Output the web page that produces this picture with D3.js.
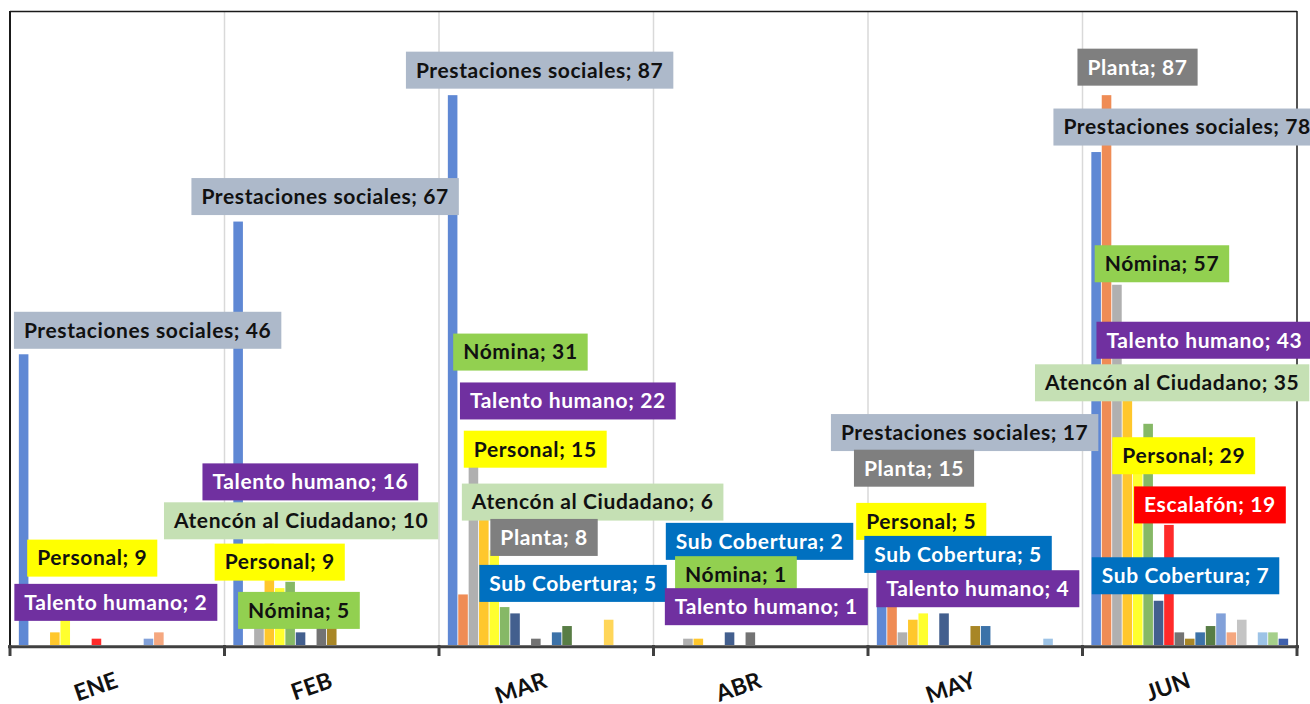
<!DOCTYPE html>
<html>
<head>
<meta charset="utf-8">
<script src="https://cdn.jsdelivr.net/npm/d3@7"></script>
<style>
  body { margin: 0; background: #fff; }
  svg { display: block; font-family: Lato, "Open Sans", sans-serif; }
</style>
</head>
<body>
<svg id="chart" width="1310" height="704"></svg>
<script>
// main chart data
var months = ["ENE", "FEB", "MAR", "ABR", "MAY", "JUN"];

var seriesNames = [
  "Prestaciones sociales", "Planta", "Nómina", "Talento humano", "Personal",
  "Atencón al Ciudadano", "Sub Cobertura", "Escalafón", "Serie 9", "Serie 10",
  "Serie 11", "Serie 12", "Serie 13", "Serie 14", "Serie 15", "Serie 16",
  "Serie 17", "Serie 18", "Serie 19"
];

var prestaciones = [46, 67, 87, 0, 17, 78];
var planta       = [0, 0, 8, 0, 15, 87];
var nomina       = [0, 5, 31, 1, 2, 57];
var talento      = [2, 16, 22, 1, 4, 43];
var personal     = [9, 9, 15, 0, 5, 29];
var atencion     = [0, 10, 6, 0, 0, 35];
var subCobertura = [0, 2, 5, 2, 5, 7];
var escalafon    = [1, 0, 0, 0, 0, 19];
var serie9  = [0, 3, 1, 2, 0, 2];
var serie10 = [0, 3, 0, 0, 3, 1];
var serie11 = [0, 0, 2, 0, 3, 2];
var serie12 = [0, 0, 3, 0, 0, 3];
var serie13 = [1, 0, 0, 0, 0, 5];
var serie14 = [2, 0, 0, 0, 0, 2];
var serie15 = [0, 0, 0, 0, 0, 4];
var serie16 = [0, 0, 4, 0, 0, 0];
var serie17 = [0, 0, 0, 0, 1, 2];
var serie18 = [0, 0, 0, 0, 0, 2];
var serie19 = [0, 0, 0, 0, 0, 1];

var seriesValues = [prestaciones, planta, nomina, talento, personal, atencion,
  subCobertura, escalafon, serie9, serie10, serie11, serie12, serie13, serie14,
  serie15, serie16, serie17, serie18, serie19];

// data labels shown on the chart: [series, month]
var labelPoints = [
  ["Prestaciones sociales", "ENE"], ["Personal", "ENE"], ["Talento humano", "ENE"],
  ["Prestaciones sociales", "FEB"], ["Talento humano", "FEB"], ["Atencón al Ciudadano", "FEB"],
  ["Personal", "FEB"], ["Nómina", "FEB"],
  ["Prestaciones sociales", "MAR"], ["Nómina", "MAR"], ["Talento humano", "MAR"],
  ["Personal", "MAR"], ["Atencón al Ciudadano", "MAR"], ["Planta", "MAR"], ["Sub Cobertura", "MAR"],
  ["Sub Cobertura", "ABR"], ["Nómina", "ABR"], ["Talento humano", "ABR"],
  ["Prestaciones sociales", "MAY"], ["Planta", "MAY"], ["Personal", "MAY"],
  ["Sub Cobertura", "MAY"], ["Talento humano", "MAY"],
  ["Planta", "JUN"], ["Prestaciones sociales", "JUN"], ["Nómina", "JUN"], ["Talento humano", "JUN"],
  ["Atencón al Ciudadano", "JUN"], ["Personal", "JUN"], ["Escalafón", "JUN"], ["Sub Cobertura", "JUN"]
];

// where each label was dragged to, relative to the top of its bar (px)
var labelNudge = [
  [124, -24], [27, -30], [61, -30],
  [87, -25], [41, -62], [11, -61], [0, -26], [40, -3],
  [87, -25], [47, -97], [84, -105], [41, -101], [88, -105], [81, -57], [58, -30],
  [30, -91], [48, -64], [68, -32],
  [83, -105], [22, -82], [-2, -92], [14, -59], [65, -31],
  [31, -28], [91, -25], [45, -21], [77, -33], [24, -41], [46, -6], [41, -20], [27, -25]
];

var barColors = ["#5f88d4", "#ef8c55", "#b0b0b0", "#ffc72c", "#ffff2e", "#86b866",
  "#435f8e", "#ff2a2a", "#737373", "#a88626", "#3c72a8", "#587d45", "#82a1d9",
  "#f5a77f", "#c4c4c4", "#ffd659", "#9dc3e6", "#a5cf8a", "#3f60ac"];

var labelStyle = {
  "Prestaciones sociales": ["#adb9ca", "#111"],
  "Planta": ["#7f7f7f", "#fff"],
  "Nómina": ["#92d050", "#111"],
  "Talento humano": ["#7030a0", "#fff"],
  "Personal": ["#ffff00", "#111"],
  "Atencón al Ciudadano": ["#c5e0b4", "#111"],
  "Escalafón": ["#ff0000", "#fff"],
  "Sub Cobertura": ["#0070c0", "#fff"]
};

var plotLeft = 10, plotRight = 1297, plotTop = 13, base = 645;

var svg = d3.select("#chart");

var x0 = d3.scaleBand().domain(months).range([plotLeft, plotRight]);
var x1 = d3.scaleBand().domain(d3.range(seriesNames.length))
  .range([0, x0.bandwidth()]).paddingInner(0.08).paddingOuter(0.85);
var y = d3.scaleLinear().domain([0, 100]).range([base, plotTop]);

// vertical gridlines between months
svg.append("g").selectAll("line")
  .data(months.slice(1))
  .enter().append("line")
  .attr("x1", d => x0(d)).attr("x2", d => x0(d))
  .attr("y1", 12).attr("y2", base)
  .style("stroke", "#d9d9d9")
  .style("stroke-width", 1.5);

// bars
var cells = [];
months.forEach((m, mi) => {
  seriesValues.forEach((vals, si) => {
    if (vals[mi] > 0) cells.push({ m: m, s: si, v: vals[mi] });
  });
});

svg.append("g").selectAll("rect")
  .data(cells)
  .enter().append("rect")
  .attr("x", d => x0(d.m) + x1(d.s))
  .attr("y", d => y(d.v))
  .attr("width", x1.bandwidth())
  .attr("height", d => base - y(d.v))
  .style("fill", d => barColors[d.s]);

// frame and axis
var frame = svg.append("g").style("stroke", "#1a1a1a");
frame.append("line").attr("x1", plotLeft).attr("x2", plotRight).attr("y1", 11.5).attr("y2", 11.5).style("stroke-width", 1.5);
frame.append("line").attr("x1", plotLeft).attr("x2", plotLeft).attr("y1", 11).attr("y2", base).style("stroke-width", 2);
frame.append("line").attr("x1", plotRight).attr("x2", plotRight).attr("y1", 11).attr("y2", base).style("stroke-width", 1.5);

var axis = svg.append("g").style("stroke", "#404040");
axis.append("line")
  .attr("x1", plotLeft - 2).attr("x2", plotRight + 2)
  .attr("y1", base + 1.8).attr("y2", base + 1.8)
  .style("stroke-width", 3);
axis.selectAll(".tick")
  .data(months.map(m => x0(m)).concat([plotRight]))
  .enter().append("line")
  .attr("x1", d => d).attr("x2", d => d)
  .attr("y1", base).attr("y2", base + 11)
  .style("stroke-width", 3);

svg.append("g").selectAll("text")
  .data(months)
  .enter().append("text")
  .attr("transform", d => "translate(" + (x0(d) + x0.bandwidth() / 2 + 2) + ",687) rotate(-19)")
  .attr("text-anchor", "end")
  .style("font-size", "23px")
  .style("font-weight", "bold")
  .style("fill", "#111")
  .text(d => d);

// data labels
var labels = svg.append("g");
labelPoints.forEach((p, i) => {
  var si = seriesNames.indexOf(p[0]);
  var mi = months.indexOf(p[1]);
  var v = seriesValues[si][mi];
  var cx = x0(p[1]) + x1(si) + x1.bandwidth() / 2 + labelNudge[i][0];
  var cy = y(v) + labelNudge[i][1];
  var st = labelStyle[p[0]];

  var g = labels.append("g").attr("transform", "translate(" + cx + "," + cy + ")");
  var box = g.append("rect").style("fill", st[0]);
  var t = g.append("text")
    .attr("text-anchor", "middle")
    .attr("dy", "0.35em")
    .style("font-size", "21px")
    .style("letter-spacing", "0.6px")
    .style("font-weight", "bold")
    .style("fill", st[1])
    .text(p[0] + "; " + v);
  var w = t.node().getComputedTextLength() + 20;
  box.attr("x", -w / 2).attr("y", -18.5).attr("width", w).attr("height", 37);
});
</script>
</body>
</html>
